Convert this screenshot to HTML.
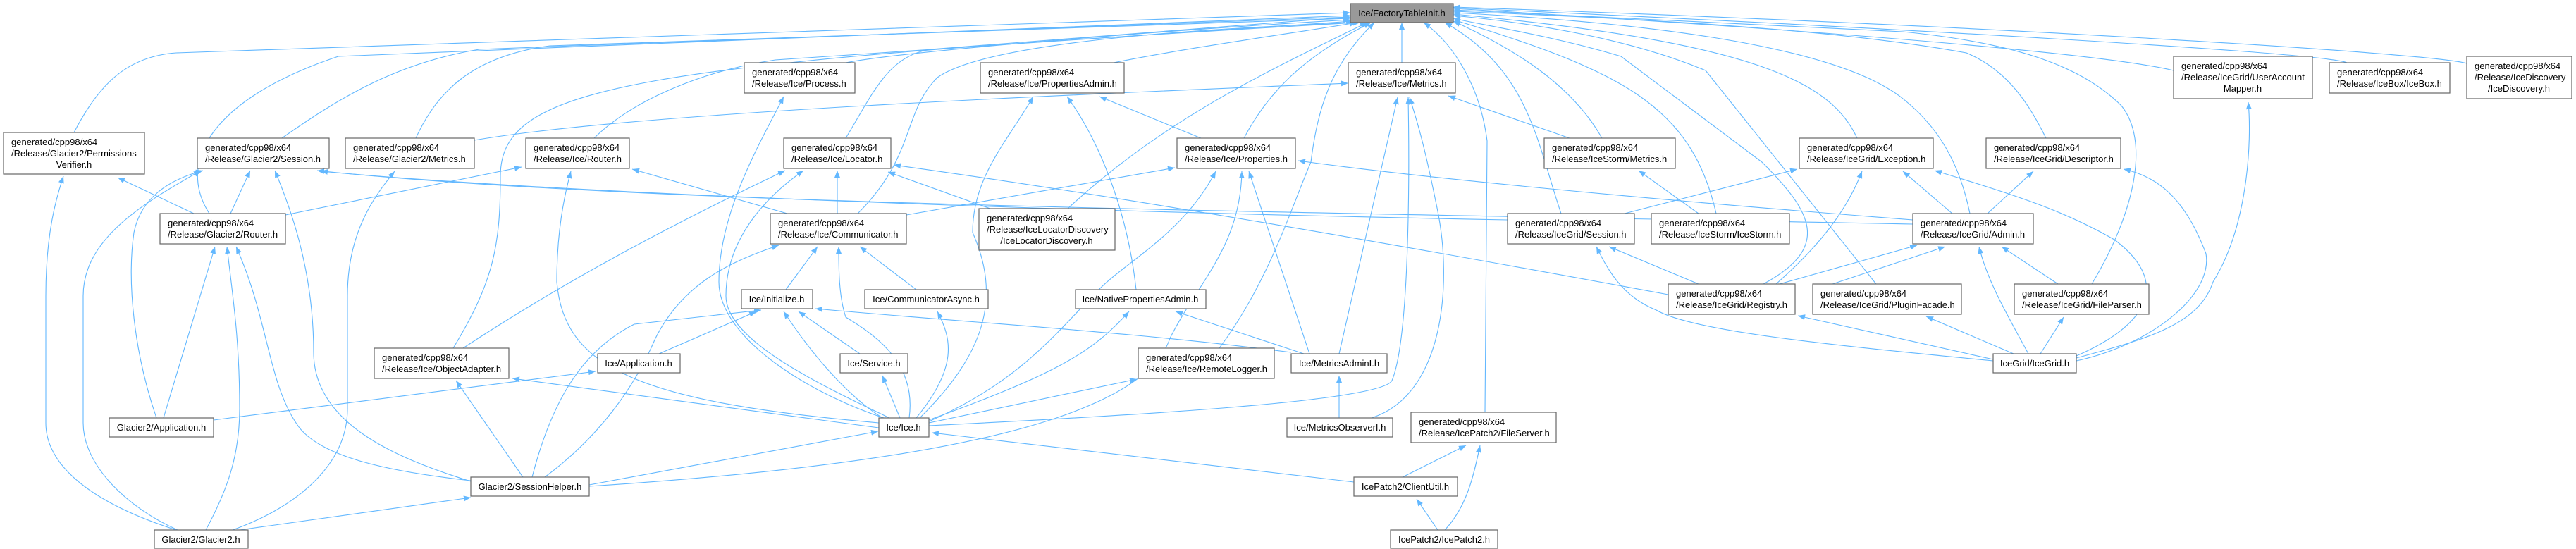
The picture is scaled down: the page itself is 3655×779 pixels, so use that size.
<!DOCTYPE html>
<html><head><meta charset="utf-8"><style>
html,body{margin:0;padding:0;background:#fff;}
svg{display:block;}
text{font-family:"Liberation Sans",Arial,sans-serif;font-size:13px;fill:#000;}
.e{fill:none;stroke:#63b8ff;stroke-width:1.1;marker-end:url(#a);}
.n{fill:#fff;stroke:#666;stroke-width:1.2;}
</style></head><body>
<svg width="3655" height="779" viewBox="0 0 3655 779" xmlns="http://www.w3.org/2000/svg">
<defs><marker id="a" markerUnits="userSpaceOnUse" markerWidth="11" markerHeight="8" refX="10" refY="4" orient="auto"><path d="M0,0 L10,4 L0,8 z" fill="#63b8ff"/></marker></defs>
<g>
<!-- edges to FactoryTableInit -->
<path class="e" d="M105,188 C140,120 180,80 250,75 L1916,18"/>
<path class="e" d="M297,303 C250,230 300,140 480,80 L1916,22"/>
<path class="e" d="M400,196 C480,140 560,90 680,70 L1916,24"/>
<path class="e" d="M590,196 C620,130 670,80 780,65 L1916,26"/>
<path class="e" d="M843,196 C900,140 1000,100 1100,85 L1920,30"/>
<path class="e" d="M643,494 C700,400 710,350 710,250 C710,120 900,90 1925,32"/>
<path class="e" d="M1200,89 C1300,70 1700,40 1916,28"/>
<path class="e" d="M1580,89 C1700,65 1850,45 1925,32"/>
<path class="e" d="M1200,196 C1240,130 1260,80 1320,70 L1916,24"/>
<path class="e" d="M1217,303 C1300,220 1280,160 1330,110 C1400,60 1700,40 1930,32"/>
<path class="e" d="M1515,296 C1650,170 1800,100 1940,32"/>
<path class="e" d="M1730,494 C1800,400 1830,300 1860,230 C1870,150 1890,90 1950,32"/>
<path class="e" d="M1765,196 C1800,130 1850,80 1945,32"/>
<path class="e" d="M1989,89 L1989,32"/>
<path class="e" d="M2107,585 L2110,200 C2100,120 2060,60 2020,32"/>
<path class="e" d="M2215,303 C2180,200 2170,100 2050,32"/>
<path class="e" d="M2273,196 C2230,120 2150,70 2062,30"/>
<path class="e" d="M2435,303 C2400,150 2300,100 2062,28"/>
<path class="e" d="M2502,403 C2600,350 2570,300 2500,230 L2300,80 C2200,50 2100,35 2062,26"/>
<path class="e" d="M2662,403 L2420,100 C2300,50 2150,30 2062,22"/>
<path class="e" d="M2635,196 C2600,120 2500,60 2062,20"/>
<path class="e" d="M2795,303 C2780,230 2750,180 2700,140 C2600,60 2300,30 2062,18"/>
<path class="e" d="M2903,196 C2880,150 2850,100 2790,75 C2600,40 2300,25 2062,16"/>
<path class="e" d="M2968,403 C3030,300 3050,200 3010,150 C2950,90 2850,60 2700,45 L2062,14"/>
<path class="e" d="M3084,100 C3000,80 2700,50 2062,12"/>
<path class="e" d="M3330,89 C3300,75 2700,40 2062,11"/>
<path class="e" d="M3500,90 C3450,75 2800,35 2062,10"/>
<!-- other edges -->
<path class="e" d="M275,303 L167,252"/>
<path class="e" d="M250,752 C150,720 65,670 65,600 L65,420 C65,330 80,280 90,250"/>
<path class="e" d="M327,303 L355,242"/>
<path class="e" d="M222,593 C190,500 180,400 190,330 C200,280 240,255 288,242"/>
<path class="e" d="M252,752 C180,720 118,660 118,600 L118,420 C118,340 200,290 285,242"/>
<path class="e" d="M668,683 C560,650 445,600 445,500 C445,380 410,290 390,242"/>
<path class="e" d="M2139,312 C1500,300 800,275 455,243"/>
<path class="e" d="M2714,318 C1800,300 900,290 450,242"/>
<path class="e" d="M330,752 C420,720 493,660 493,580 L493,420 C493,330 530,280 560,243"/>
<path class="e" d="M673,199 C900,160 1500,135 1913,118"/>
<path class="e" d="M405,305 L740,237"/>
<path class="e" d="M1247,600 C900,570 800,520 790,400 C790,330 800,280 810,243"/>
<path class="e" d="M1117,303 L897,240"/>
<path class="e" d="M232,593 L305,350"/>
<path class="e" d="M292,752 C320,700 340,650 340,580 C340,480 330,420 322,350"/>
<path class="e" d="M668,682 C560,670 450,650 420,600 C380,540 380,450 335,350"/>
<path class="e" d="M742,677 L647,540"/>
<path class="e" d="M1247,607 L727,537"/>
<path class="e" d="M657,494 C800,400 950,320 1114,242"/>
<path class="e" d="M303,596 L845,527"/>
<path class="e" d="M836,688 L1246,612"/>
<path class="e" d="M340,752 L668,706"/>
<path class="e" d="M773,677 C850,620 900,550 930,480 C970,400 1040,370 1105,348"/>
<path class="e" d="M755,677 C780,580 820,500 900,460 L1080,440"/>
<path class="e" d="M836,690 C1300,660 1620,600 1660,480 C1700,400 1760,350 1762,243"/>
<path class="e" d="M935,502 L1073,442"/>
<path class="e" d="M1220,502 L1133,442"/>
<path class="e" d="M1252,593 C1200,560 1150,500 1112,442"/>
<path class="e" d="M1188,303 L1188,242"/>
<path class="e" d="M1115,411 L1160,350"/>
<path class="e" d="M1290,593 C1300,520 1250,480 1200,450 C1190,420 1190,380 1190,350"/>
<path class="e" d="M1300,411 L1220,350"/>
<path class="e" d="M1260,595 C1150,560 1020,480 1020,400 C1020,300 1080,200 1112,137"/>
<path class="e" d="M1262,593 C1150,540 1030,480 1030,420 C1030,330 1100,270 1140,242"/>
<path class="e" d="M1277,593 L1252,533"/>
<path class="e" d="M1300,593 C1360,520 1350,480 1330,442"/>
<path class="e" d="M1305,593 C1400,500 1420,420 1380,330 C1380,250 1430,200 1466,137"/>
<path class="e" d="M1315,597 C1500,530 1550,500 1602,442"/>
<path class="e" d="M1318,598 C1450,540 1500,470 1560,410 C1600,370 1680,330 1725,243"/>
<path class="e" d="M1318,600 L1613,538"/>
<path class="e" d="M1318,604 C1600,590 1960,570 1975,540 C2000,480 2000,250 1998,138"/>
<path class="e" d="M1921,684 L1322,614"/>
<path class="e" d="M1405,296 L1260,244"/>
<path class="e" d="M2367,418 C2000,350 1600,280 1268,234"/>
<path class="e" d="M1286,305 L1667,238"/>
<path class="e" d="M2714,312 C2300,280 2000,250 1842,228"/>
<path class="e" d="M1704,196 L1560,137"/>
<path class="e" d="M1612,411 C1600,300 1560,200 1514,137"/>
<path class="e" d="M1858,502 L1772,243"/>
<path class="e" d="M1850,502 L1668,442"/>
<path class="e" d="M1832,500 C1600,470 1400,460 1157,438"/>
<path class="e" d="M1900,502 L1983,138"/>
<path class="e" d="M1900,593 L1900,533"/>
<path class="e" d="M1946,593 C2050,560 2060,400 2040,300 C2020,200 2010,170 2000,138"/>
<path class="e" d="M2227,196 L2055,136"/>
<path class="e" d="M2410,303 L2325,242"/>
<path class="e" d="M2305,303 L2550,240"/>
<path class="e" d="M2410,403 L2283,350"/>
<path class="e" d="M2520,403 C2580,350 2620,300 2642,243"/>
<path class="e" d="M2525,403 L2720,348"/>
<path class="e" d="M2600,403 L2760,350"/>
<path class="e" d="M2920,403 L2840,350"/>
<path class="e" d="M2878,502 C2850,450 2820,400 2808,350"/>
<path class="e" d="M2770,303 L2700,243"/>
<path class="e" d="M2820,303 L2885,243"/>
<path class="e" d="M2828,510 L2551,448"/>
<path class="e" d="M2857,502 L2733,449"/>
<path class="e" d="M2895,502 L2928,450"/>
<path class="e" d="M2828,512 C2600,490 2400,470 2350,440 C2300,420 2280,380 2265,350"/>
<path class="e" d="M2946,505 C3050,460 3080,400 3000,340 C2930,300 2870,280 2745,242"/>
<path class="e" d="M2946,512 C3050,490 3140,420 3130,360 C3100,280 3060,250 3013,240"/>
<path class="e" d="M2946,508 C3050,480 3120,460 3140,400 C3190,320 3195,200 3190,145"/>
<path class="e" d="M1990,677 L2080,632"/>
<path class="e" d="M2050,752 C2080,720 2090,680 2100,632"/>
<path class="e" d="M2040,752 L2010,708"/>
</g>
<g>
<rect x="1916" y="5" width="146" height="27" fill="#999" stroke="#666" stroke-width="1.2"/><text x="1989" y="23" text-anchor="middle">Ice/FactoryTableInit.h</text>

<rect class="n" x="5" y="188" width="200" height="59"/><text x="16" y="206">generated/cpp98/x64</text><text x="16" y="222">/Release/Glacier2/Permissions</text><text x="105" y="238" text-anchor="middle">Verifier.h</text>
<rect class="n" x="280" y="196" width="187" height="43"/><text x="291" y="214">generated/cpp98/x64</text><text x="291" y="230">/Release/Glacier2/Session.h</text>
<rect class="n" x="490" y="196" width="183" height="43"/><text x="501" y="214">generated/cpp98/x64</text><text x="501" y="230">/Release/Glacier2/Metrics.h</text>
<rect class="n" x="746" y="196" width="147" height="43"/><text x="757" y="214">generated/cpp98/x64</text><text x="757" y="230">/Release/Ice/Router.h</text>
<rect class="n" x="227" y="303" width="178" height="43"/><text x="238" y="321">generated/cpp98/x64</text><text x="238" y="337">/Release/Glacier2/Router.h</text>
<rect class="n" x="531" y="494" width="191" height="43"/><text x="542" y="512">generated/cpp98/x64</text><text x="542" y="528">/Release/Ice/ObjectAdapter.h</text>
<rect class="n" x="848" y="502" width="117" height="27"/><text x="906" y="520" text-anchor="middle">Ice/Application.h</text>
<rect class="n" x="155" y="593" width="148" height="27"/><text x="229" y="611" text-anchor="middle">Glacier2/Application.h</text>
<rect class="n" x="668" y="677" width="168" height="27"/><text x="752" y="695" text-anchor="middle">Glacier2/SessionHelper.h</text>
<rect class="n" x="219" y="752" width="133" height="26"/><text x="285" y="770" text-anchor="middle">Glacier2/Glacier2.h</text>

<rect class="n" x="1056" y="89" width="157" height="43"/><text x="1067" y="107">generated/cpp98/x64</text><text x="1067" y="123">/Release/Ice/Process.h</text>
<rect class="n" x="1391" y="89" width="204" height="43"/><text x="1402" y="107">generated/cpp98/x64</text><text x="1402" y="123">/Release/Ice/PropertiesAdmin.h</text>
<rect class="n" x="1112" y="196" width="152" height="43"/><text x="1123" y="214">generated/cpp98/x64</text><text x="1123" y="230">/Release/Ice/Locator.h</text>
<rect class="n" x="1670" y="196" width="168" height="43"/><text x="1681" y="214">generated/cpp98/x64</text><text x="1681" y="230">/Release/Ice/Properties.h</text>
<rect class="n" x="1093" y="303" width="193" height="43"/><text x="1104" y="321">generated/cpp98/x64</text><text x="1104" y="337">/Release/Ice/Communicator.h</text>
<rect class="n" x="1389" y="296" width="193" height="59"/><text x="1400" y="314">generated/cpp98/x64</text><text x="1400" y="330">/Release/IceLocatorDiscovery</text><text x="1485" y="346" text-anchor="middle">/IceLocatorDiscovery.h</text>
<rect class="n" x="1052" y="411" width="101" height="27"/><text x="1102" y="429" text-anchor="middle">Ice/Initialize.h</text>
<rect class="n" x="1227" y="411" width="175" height="27"/><text x="1314" y="429" text-anchor="middle">Ice/CommunicatorAsync.h</text>
<rect class="n" x="1526" y="411" width="185" height="27"/><text x="1618" y="429" text-anchor="middle">Ice/NativePropertiesAdmin.h</text>
<rect class="n" x="1192" y="502" width="96" height="27"/><text x="1240" y="520" text-anchor="middle">Ice/Service.h</text>
<rect class="n" x="1615" y="494" width="193" height="43"/><text x="1626" y="512">generated/cpp98/x64</text><text x="1626" y="528">/Release/Ice/RemoteLogger.h</text>
<rect class="n" x="1247" y="593" width="71" height="27"/><text x="1282" y="611" text-anchor="middle">Ice/Ice.h</text>

<rect class="n" x="1913" y="89" width="152" height="43"/><text x="1924" y="107">generated/cpp98/x64</text><text x="1924" y="123">/Release/Ice/Metrics.h</text>
<rect class="n" x="2191" y="196" width="186" height="43"/><text x="2202" y="214">generated/cpp98/x64</text><text x="2202" y="230">/Release/IceStorm/Metrics.h</text>
<rect class="n" x="2553" y="196" width="190" height="43"/><text x="2564" y="214">generated/cpp98/x64</text><text x="2564" y="230">/Release/IceGrid/Exception.h</text>
<rect class="n" x="2139" y="303" width="180" height="43"/><text x="2150" y="321">generated/cpp98/x64</text><text x="2150" y="337">/Release/IceGrid/Session.h</text>
<rect class="n" x="2343" y="303" width="196" height="43"/><text x="2354" y="321">generated/cpp98/x64</text><text x="2354" y="337">/Release/IceStorm/IceStorm.h</text>
<rect class="n" x="2367" y="403" width="180" height="43"/><text x="2378" y="421">generated/cpp98/x64</text><text x="2378" y="437">/Release/IceGrid/Registry.h</text>
<rect class="n" x="2572" y="403" width="211" height="43"/><text x="2583" y="421">generated/cpp98/x64</text><text x="2583" y="437">/Release/IceGrid/PluginFacade.h</text>
<rect class="n" x="1832" y="502" width="136" height="27"/><text x="1900" y="520" text-anchor="middle">Ice/MetricsAdminI.h</text>
<rect class="n" x="1826" y="593" width="150" height="27"/><text x="1901" y="611" text-anchor="middle">Ice/MetricsObserverI.h</text>
<rect class="n" x="2002" y="585" width="206" height="43"/><text x="2013" y="603">generated/cpp98/x64</text><text x="2013" y="619">/Release/IcePatch2/FileServer.h</text>
<rect class="n" x="1921" y="677" width="147" height="27"/><text x="1994" y="695" text-anchor="middle">IcePatch2/ClientUtil.h</text>
<rect class="n" x="1973" y="752" width="152" height="26"/><text x="2049" y="770" text-anchor="middle">IcePatch2/IcePatch2.h</text>

<rect class="n" x="2714" y="303" width="171" height="43"/><text x="2725" y="321">generated/cpp98/x64</text><text x="2725" y="337">/Release/IceGrid/Admin.h</text>
<rect class="n" x="2818" y="196" width="191" height="43"/><text x="2829" y="214">generated/cpp98/x64</text><text x="2829" y="230">/Release/IceGrid/Descriptor.h</text>
<rect class="n" x="3084" y="80" width="197" height="60"/><text x="3095" y="98">generated/cpp98/x64</text><text x="3095" y="114">/Release/IceGrid/UserAccount</text><text x="3182" y="130" text-anchor="middle">Mapper.h</text>
<rect class="n" x="3305" y="89" width="171" height="43"/><text x="3316" y="107">generated/cpp98/x64</text><text x="3316" y="123">/Release/IceBox/IceBox.h</text>
<rect class="n" x="3500" y="80" width="149" height="60"/><text x="3511" y="98">generated/cpp98/x64</text><text x="3511" y="114">/Release/IceDiscovery</text><text x="3574" y="130" text-anchor="middle">/IceDiscovery.h</text>
<rect class="n" x="2858" y="403" width="191" height="43"/><text x="2869" y="421">generated/cpp98/x64</text><text x="2869" y="437">/Release/IceGrid/FileParser.h</text>
<rect class="n" x="2828" y="502" width="118" height="27"/><text x="2887" y="520" text-anchor="middle">IceGrid/IceGrid.h</text>
</g>
</svg>
</body></html>
